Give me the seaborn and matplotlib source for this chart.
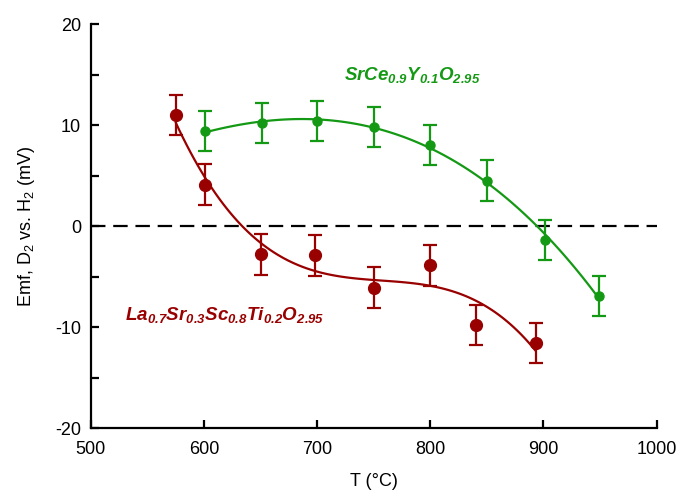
import numpy as np
import pandas as pd
import matplotlib
matplotlib.use('Agg')
import matplotlib.pyplot as plt
import seaborn as sns

# data
t_lsst = [575, 601, 650, 698, 750, 800, 840, 893]
emf_lsst = [11.0, 4.1, -2.8, -2.9, -6.1, -3.9, -9.8, -11.6]
err_lsst = [2.0, 2.0, 2.0, 2.0, 2.0, 2.0, 2.0, 2.0]

t_scy = [601, 651, 700, 750, 800, 850, 901, 949]
emf_scy = [9.4, 10.2, 10.4, 9.8, 8.0, 4.5, -1.4, -6.9]
err_scy = [2.0, 2.0, 2.0, 2.0, 2.0, 2.0, 2.0, 2.0]

red = '#990000'
green = '#149914'

sns.set_style('ticks')
plt.rcParams['font.family'] = ['Liberation Sans', 'DejaVu Sans']
plt.rcParams['mathtext.fontset'] = 'custom'
plt.rcParams['mathtext.rm'] = 'Liberation Sans'
plt.rcParams['mathtext.sf'] = 'Liberation Sans:italic:bold'
plt.rcParams['mathtext.it'] = 'Liberation Sans:italic'
plt.rcParams['mathtext.bf'] = 'Liberation Sans:bold'
for k in ['text.color', 'axes.labelcolor', 'xtick.color', 'ytick.color', 'axes.edgecolor']:
    plt.rcParams[k] = 'black'

df_lsst = pd.DataFrame({'T': t_lsst, 'emf': emf_lsst})
df_scy = pd.DataFrame({'T': t_scy, 'emf': emf_scy})

fig, ax = plt.subplots(figsize=(6.77, 4.92), dpi=100)
fig.subplots_adjust(left=0.134, right=0.970, top=0.951, bottom=0.130)

ax.axhline(0, color='black', lw=1.6, dashes=(6.5, 3.5), zorder=1)

# cubic fit curves
sns.regplot(data=df_lsst, x='T', y='emf', order=3, ci=None, scatter=False,
            truncate=True, line_kws={'color': red, 'lw': 1.6}, ax=ax)
sns.regplot(data=df_scy, x='T', y='emf', order=3, ci=None, scatter=False,
            truncate=True, line_kws={'color': green, 'lw': 1.6}, ax=ax)

ax.errorbar(t_lsst, emf_lsst, yerr=err_lsst, fmt='o', color=red, ms=8.5,
            capsize=5, elinewidth=1.6, capthick=1.6, zorder=3)
ax.errorbar(t_scy, emf_scy, yerr=err_scy, fmt='o', color=green, ms=6.5,
            capsize=5, elinewidth=1.6, capthick=1.6, zorder=3)

ax.text(724, 15.0, r'$\mathsf{SrCe_{0.9}Y_{0.1}O_{2.95}}$', color=green,
        fontsize=13.5, va='center', ha='left')
ax.text(530, -8.8, r'$\mathsf{La_{0.7}Sr_{0.3}Sc_{0.8}Ti_{0.2}O_{2.95}}$', color=red,
        fontsize=13.5, va='center', ha='left')

ax.set_xlim(500, 1000)
ax.set_ylim(-20, 20)
ax.set_xticks(range(500, 1001, 100))
ax.set_yticks(range(-20, 21, 5))
ax.set_yticklabels([str(v) if v % 10 == 0 else '' for v in range(-20, 21, 5)])
ax.tick_params(direction='in', length=6, width=1.6, labelsize=13)
ax.tick_params(axis='x', pad=9)
ax.tick_params(axis='y', pad=7)
ax.set_xlabel('T (°C)', fontsize=13, labelpad=11)
ax.set_ylabel('Emf, D$_2$ vs. H$_2$ (mV)', fontsize=13, labelpad=13)
for s in ['left', 'bottom']:
    ax.spines[s].set_linewidth(1.6)
sns.despine(ax=ax)

fig.savefig('out.png', dpi=100)
